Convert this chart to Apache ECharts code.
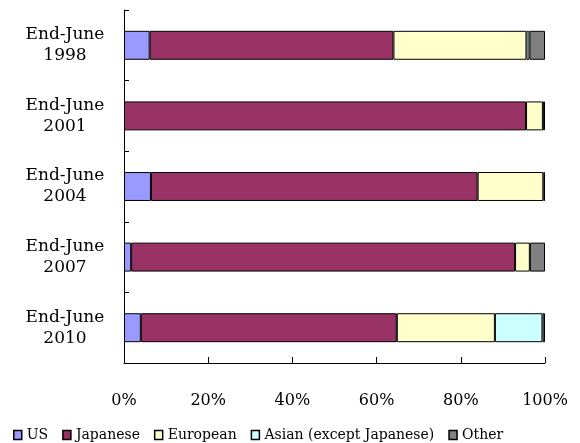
<!DOCTYPE html>
<html>
<head>
<meta charset="utf-8">
<script src="https://cdn.jsdelivr.net/npm/echarts@6/dist/echarts.min.js"></script>
<style>
  html, body { margin: 0; padding: 0; background: #fff; }
  #chart { width: 580px; height: 443px; }
</style>
</head>
<body>
<div id="chart"></div>
<script>
// Share of holdings by nationality (percent of total)
const categories = ['End-June\n1998', 'End-June\n2001', 'End-June\n2004', 'End-June\n2007', 'End-June\n2010'];
const usShare       = [6.1, 0.0, 6.4, 1.7, 4.0];
const japaneseShare = [57.9, 95.5, 77.6, 91.2, 60.8];
const europeanShare = [31.6, 4.0, 15.6, 3.5, 23.3];
const asianShare    = [0.7, 0.5, 0.0, 0.0, 11.3];
const otherShare    = [3.7, 0.0, 0.4, 3.6, 0.6];
const xTicks = [0, 20, 40, 60, 80, 100];

const serif = '"DejaVu Serif", "Liberation Serif", serif';

const seriesDefs = [
  { name: 'US', data: usShare, color: '#9999FF' },
  { name: 'Japanese', data: japaneseShare, color: '#993366' },
  { name: 'European', data: europeanShare, color: '#FFFFCC' },
  { name: 'Asian (except Japanese)', data: asianShare, color: '#CCFFFF' },
  { name: 'Other', data: otherShare, color: '#808080' }
];

// empty segments are skipped so they leave no outline
const segment = v => (v > 0 ? v : '-');

const chart = echarts.init(document.getElementById('chart'));
chart.setOption({
  animation: false,
  grid: { left: 124, right: 35, top: 10, bottom: 80 },
  legend: {
    left: 8,
    top: 423,
    icon: 'rect',
    itemWidth: 8,
    itemHeight: 9,
    itemGap: 14,
    textStyle: { fontFamily: serif, fontSize: 14, color: '#000' },
    data: seriesDefs.map(s => ({ name: s.name, itemStyle: { borderColor: '#000', borderWidth: 1.5 } }))
  },
  xAxis: {
    type: 'value',
    min: xTicks[0],
    max: xTicks[xTicks.length - 1],
    interval: 20,
    splitLine: { show: false },
    axisLine: { show: true, lineStyle: { color: '#000', width: 1 } },
    axisTick: { show: true, inside: true, length: 6, lineStyle: { color: '#000' } },
    axisLabel: { formatter: '{value}%', fontFamily: serif, fontSize: 16, color: '#000', margin: 30 }
  },
  yAxis: {
    type: 'category',
    inverse: true,
    data: categories,
    axisLine: { show: true, lineStyle: { color: '#000', width: 1 } },
    axisTick: { show: true, inside: true, length: 5, lineStyle: { color: '#000' } },
    axisLabel: { fontFamily: serif, fontSize: 17, color: '#000', lineHeight: 21, align: 'center', margin: 59 }
  },
  series: seriesDefs.map(s => ({
    name: s.name,
    type: 'bar',
    stack: 'total',
    barWidth: '41%',
    data: s.data.map(segment),
    itemStyle: { color: s.color, borderColor: '#000', borderWidth: 1 }
  }))
});
</script>
</body>
</html>
